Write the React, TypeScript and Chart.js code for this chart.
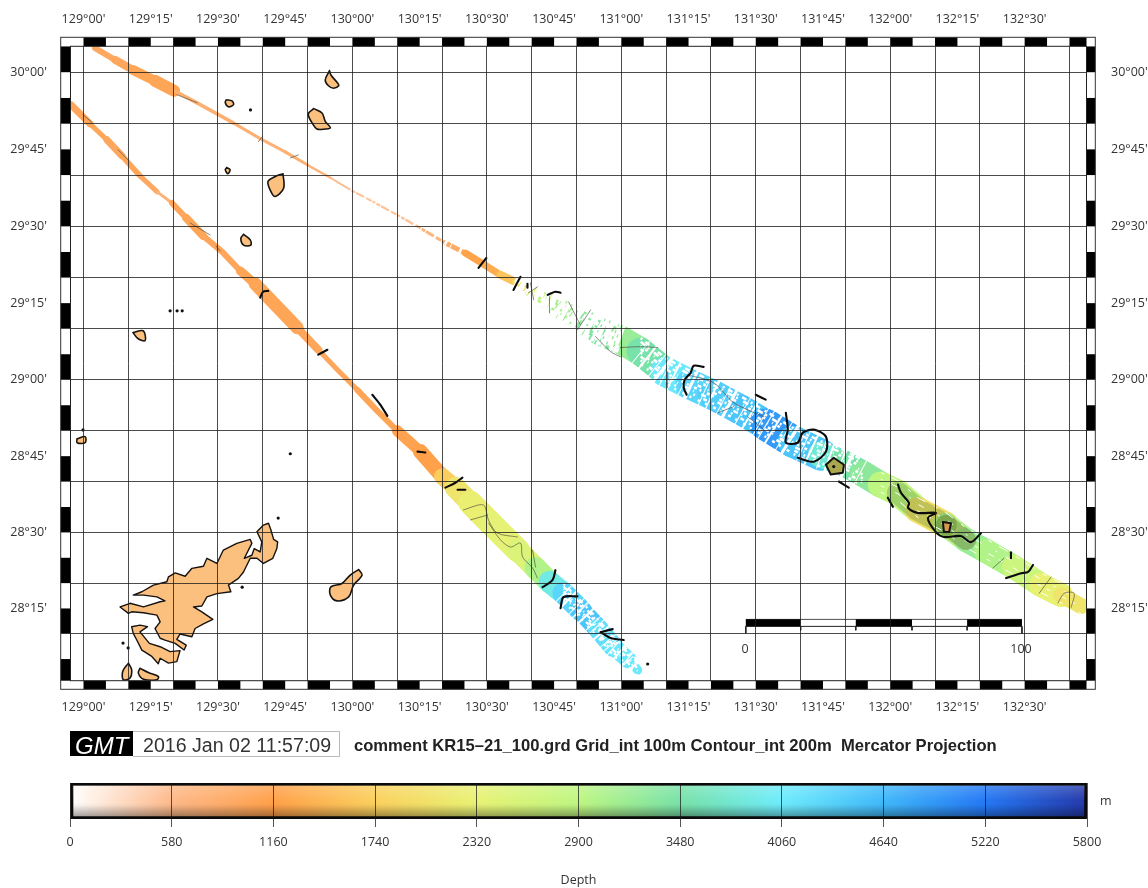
import React, { useEffect, useRef } from "react";
import { Chart, registerables } from "chart.js";
Chart.register(...registerables);

type P = [number, number];

// map extent (degrees)
const lonMin = 128.9516, lonMax = 132.7300, latMin = 28.012, latMax = 30.0838;

// swath centre lines
const lowerLon = [128.953,129.024,129.087,129.143,129.210,129.274,129.329,129.382,129.445,129.516,129.583,129.638,129.713,129.795,129.873,129.944,130.018,130.096,130.167,130.253,130.335,130.383,130.439,130.513,130.614,130.681,130.733,130.785,130.848,130.912,130.971,131.027,131.061];
const lowerLat = [29.895,29.833,29.781,29.729,29.664,29.612,29.576,29.527,29.469,29.417,29.355,29.313,29.245,29.170,29.098,29.033,28.967,28.895,28.833,28.765,28.683,28.647,28.597,28.531,28.442,28.383,28.337,28.300,28.245,28.185,28.123,28.080,28.047];
const lowerDepth = [1000,1000,1020,1000,1050,950,750,1000,1050,1000,1000,1050,1050,1050,1000,1000,1000,1050,1050,1100,1160,1700,2100,2250,2350,2500,3000,3900,4300,4500,4200,4100,4100];
const lowerSwath = [5,7,5,7,5.5,5,3,6,8,6,6,9,13,13,8,5,5,6,6,11,15,17,21,24,24,22,22,22,22,20,20,17,9];

const upperLon = [129.043,129.117,129.184,129.266,129.337,129.352,129.434,129.557,129.657,129.750,129.832,129.918,129.992,130.085,130.167,130.253,130.346,130.420,130.491,130.551,130.606,130.662,130.718,130.767,130.860,130.923,130.997,131.072,131.165,131.258,131.340,131.444,131.537,131.641,131.742,131.816,131.898,131.965,132.029,132.103,132.207,132.282,132.356,132.460,132.561,132.635,132.710];
const upperLat = [30.078,30.040,30.007,29.972,29.940,29.933,29.895,29.836,29.785,29.742,29.700,29.658,29.619,29.576,29.537,29.494,29.446,29.413,29.375,29.342,29.319,29.287,29.261,29.235,29.189,29.157,29.131,29.092,29.026,28.984,28.951,28.902,28.853,28.797,28.755,28.732,28.693,28.657,28.630,28.574,28.525,28.475,28.439,28.386,28.327,28.294,28.258];
const upperDepth = [900,950,1000,1050,1050,850,800,800,800,750,800,700,600,500,500,500,700,900,1200,1300,1600,2000,2400,2900,3100,3300,3400,3200,3500,4100,4300,4400,4500,4900,4500,3800,3500,3300,2900,2800,2000,3000,3200,3000,2700,2300,2100];
const upperSwath = [3.5,6,8,10,12,3.5,3.5,3.5,3,3,3,2.5,2,2,2.5,2.5,3,5,7,7,8,6,12,18,22,25,28,28,28,30,30,30,30,32,32,26,26,26,26,26,26,24,24,24,24,24,16];

// coastlines
const amamiMain: P[] = [[129.688,28.530],[129.697,28.508],[129.707,28.477],[129.722,28.469],[129.719,28.447],[129.704,28.415],[129.669,28.398],[129.645,28.415],[129.620,28.415],[129.595,28.370],[129.576,28.349],[129.539,28.327],[129.548,28.305],[129.496,28.299],[129.459,28.288],[129.440,28.258],[129.409,28.255],[129.440,28.239],[129.481,28.214],[129.446,28.199],[129.415,28.184],[129.403,28.157],[129.359,28.166],[129.347,28.148],[129.382,28.129],[129.374,28.113],[129.341,28.135],[129.303,28.146],[129.285,28.152],[129.266,28.184],[129.285,28.206],[129.273,28.228],[129.223,28.236],[129.179,28.239],[129.167,28.234],[129.136,28.255],[129.173,28.267],[129.223,28.255],[129.285,28.272],[129.303,28.275],[129.273,28.288],[129.223,28.294],[129.185,28.294],[129.217,28.305],[129.260,28.327],[129.310,28.338],[129.316,28.354],[129.341,28.367],[129.378,28.356],[129.403,28.382],[129.446,28.389],[129.459,28.415],[129.496,28.398],[129.520,28.442],[129.570,28.464],[129.620,28.477],[129.626,28.464],[129.598,28.415],[129.626,28.425],[129.635,28.447],[129.657,28.436],[129.663,28.469],[129.645,28.502],[129.669,28.524]];
const kakeroma: P[] = [[129.179,28.190],[129.210,28.195],[129.238,28.190],[129.210,28.173],[129.245,28.135],[129.285,28.124],[129.322,28.108],[129.359,28.111],[129.347,28.075],[129.316,28.070],[129.285,28.086],[129.278,28.068],[129.254,28.092],[129.217,28.113],[129.198,28.146],[129.185,28.168]];
const ukeShima: P[] = [[129.167,28.070],[129.179,28.048],[129.173,28.021],[129.148,28.015],[129.146,28.043]];
const yoroShima: P[] = [[129.210,28.053],[129.241,28.039],[129.278,28.026],[129.273,28.015],[129.223,28.017],[129.204,28.037]];
const kikai: P[] = [[130.023,28.378],[130.036,28.360],[130.004,28.326],[129.986,28.288],[129.943,28.275],[129.918,28.294],[129.920,28.321],[129.961,28.332],[129.992,28.360]];
const islandA: P[] = [[129.915,30.005],[129.920,29.991],[129.945,29.965],[129.949,29.956],[129.930,29.948],[129.911,29.956],[129.899,29.975]];
const islandB: P[] = [[129.856,29.882],[129.887,29.868],[129.899,29.841],[129.918,29.820],[129.899,29.816],[129.868,29.816],[129.850,29.836],[129.837,29.857],[129.837,29.868]];
const islandC: P[] = [[129.531,29.911],[129.552,29.907],[129.558,29.895],[129.539,29.888],[129.527,29.902]];
const islandE: P[] = [[129.533,29.691],[129.545,29.684],[129.537,29.671],[129.527,29.684]];
const islandF: P[] = [[129.742,29.671],[129.744,29.624],[129.713,29.597],[129.697,29.613],[129.686,29.646],[129.713,29.662]];
const islandG: P[] = [[129.595,29.474],[129.620,29.456],[129.622,29.439],[129.595,29.439],[129.585,29.461]];
const islandH: P[] = [[129.184,29.154],[129.222,29.160],[129.229,29.128],[129.203,29.134]];
const islandI: P[] = [[128.976,28.807],[129.006,28.814],[129.006,28.794],[128.976,28.794]];
const jaggedIslands = [amamiMain, kakeroma];
const smoothIslands = [ukeShima, yoroShima, kikai, islandA, islandB, islandC, islandE, islandF, islandG, islandH, islandI];
const islets: P[] = [[129.621,29.878],[128.998,28.836],[129.769,28.758],[129.724,28.547],[129.590,28.320],[129.147,28.136],[129.166,28.120],[129.322,29.225],[129.348,29.225],[129.367,29.225],[131.098,28.067],[131.790,28.716]];

// contours, heavy
const heavyContours: P[][] = [
  [[130.469,29.365],[130.498,29.397]],
  [[130.599,29.293],[130.625,29.336]],
  [[130.651,29.300],[130.651,29.313]],
  [[130.726,29.277],[130.755,29.287],[130.774,29.284]],
  [[131.306,29.042],[131.269,29.046],[131.258,29.023],[131.236,29.000],[131.232,28.974],[131.243,28.951]],
  [[131.500,28.951],[131.537,28.935]],
  [[131.612,28.892],[131.619,28.837],[131.612,28.794],[131.656,28.794],[131.675,28.827],[131.716,28.837],[131.761,28.814],[131.761,28.765],[131.716,28.732],[131.656,28.745]],
  [[131.809,28.667],[131.846,28.647]],
  [[132.029,28.657],[132.040,28.630],[132.070,28.597],[132.066,28.581],[132.103,28.564],[132.170,28.564],[132.140,28.547],[132.170,28.501],[132.200,28.485],[132.263,28.488],[132.300,28.468],[132.338,28.498]],
  [[131.991,28.614],[132.010,28.584]],
  [[132.431,28.350],[132.487,28.366],[132.513,28.370],[132.531,28.393]],
  [[132.449,28.435],[132.449,28.415]],
  [[130.346,28.647],[130.383,28.663],[130.409,28.680]],
  [[130.391,28.640],[130.420,28.640]],
  [[130.707,28.320],[130.744,28.343],[130.755,28.376]],
  [[130.774,28.251],[130.785,28.287],[130.837,28.290]],
  [[130.923,28.172],[130.960,28.153],[131.009,28.146]],
  [[130.923,28.172],[130.968,28.182]],
  [[130.242,28.765],[130.271,28.762]],
  [[129.687,29.290],[129.668,29.287],[129.657,29.268]],
  [[129.873,29.082],[129.907,29.098]],
  [[130.074,28.951],[130.104,28.918],[130.130,28.882]],
];
// closed seamount contours
const seamountA: P[] = [[131.761,28.722],[131.790,28.745],[131.828,28.722],[131.824,28.696],[131.779,28.690]];
const seamountB: P[] = [[132.196,28.534],[132.226,28.530],[132.219,28.501],[132.200,28.501]];
const seamountFills = ["#aaa84c", "#d89a50"];

// contours, thin
const thinContours: P[][] = [
  [[130.413,28.574],[130.487,28.590],[130.506,28.541],[130.539,28.498],[130.614,28.485]],
  [[130.439,28.541],[130.502,28.557]],
  [[130.506,28.531],[130.551,28.475],[130.588,28.452],[130.625,28.465],[130.633,28.419],[130.670,28.383],[130.688,28.350]],
  [[130.670,28.442],[130.681,28.386]],
  [[130.904,29.141],[130.960,29.092],[130.997,29.075]],
  [[130.997,29.105],[131.072,29.108],[131.135,29.105]],
  [[131.172,29.026],[131.172,28.974]],
  [[131.247,29.016],[131.344,28.990],[131.418,28.925],[131.530,28.879]],
  [[131.359,28.892],[131.418,28.912]],
  [[131.470,28.879],[131.530,28.837]],
  [[130.655,29.284],[130.688,29.303]],
  [[130.662,29.316],[130.674,29.261]],
  [[130.733,29.271],[130.733,29.219]],
  [[130.804,29.254],[130.848,29.179]],
  [[130.886,29.228],[130.837,29.163]],
  [[132.624,28.268],[132.647,28.300],[132.684,28.300],[132.673,28.254]],
  [[132.554,28.300],[132.598,28.353]],
  [[132.382,28.383],[132.423,28.415]],
  [[128.998,29.862],[129.032,29.837]],
  [[129.128,29.749],[129.166,29.716]],
  [[129.397,29.511],[129.471,29.472]],
  [[129.493,29.436],[129.508,29.420]],
  [[129.348,29.927],[129.423,29.901]],
  [[129.650,29.775],[129.665,29.791]],
  [[129.769,29.722],[129.799,29.732]],
];

// scale bar
const scaleBarLon = [131.463,131.667,131.872,132.081,132.286,132.490];
const scaleBarLat = 28.203, scaleBarTopLat = 28.214, scaleBarBaseLat = 28.191, scaleBarTickLat = 28.168, scaleBarMidTickLat = 28.178;

// colour palette
const cptDepths = [0,580,1160,1740,2320,2900,3480,4060,4640,5220,5800];
const cptColors: [number,number,number][] = [[255,255,255],[253,185,138],[255,160,74],[251,208,94],[232,242,116],[190,246,130],[120,226,168],[110,236,252],[64,184,250],[36,120,244],[36,56,170]];

const merc = (lat: number) => Math.log(Math.tan(Math.PI / 4 + (lat * Math.PI) / 360));
const invMerc = (v: number) => ((2 * Math.atan(Math.exp(v)) - Math.PI / 2) * 180) / Math.PI;
const colorAt = (d: number) => {
  let i = 0;
  while (i < cptDepths.length - 2 && d > cptDepths[i + 1]) i++;
  const t = (d - cptDepths[i]) / (cptDepths[i + 1] - cptDepths[i]);
  const c = cptColors[i].map((v, k) => Math.round(v + (cptColors[i + 1][k] - v) * t));
  return `rgb(${c[0]},${c[1]},${c[2]})`;
};
const pts = (a: P[]) => a.map(([lon, lat]) => ({ x: lon, y: merc(lat) }));
const closed = (a: P[]) => pts([...a, a[0]]);
const zip = (lon: number[], lat: number[]) => lon.map((x, i) => [x, lat[i]] as P);
const lonTicks: number[] = [];
for (let m = 0; m <= 48 * 5; m += 5) { const v = 129 + m / 60; if (v <= lonMax) lonTicks.push(v); }
const latTicks: number[] = [];
for (let m = 0; m <= 24 * 5; m += 5) { const v = 30 - m / 60; if (v >= latMin) latTicks.push(v); }
const lbl = (deg: number) => {
  const total = Math.round(deg * 60);
  const d = Math.floor(total / 60), m = total - d * 60;
  return m % 15 === 0 ? `${d}°${String(m).padStart(2, "0")}'` : "";
};
const gridOn = (deg: number) => Math.round(deg * 60) % 10 === 0;

const TICK_FONT = { family: "'Open Sans'", size: 12.5 };
const TICK_COLOR = "#333";

function line(data: any[], color: string, width: number, extra: any = {}) {
  return { data, borderColor: color, borderWidth: width, pointRadius: 0, tension: 0, fill: false, borderCapStyle: "round", borderJoinStyle: "round", ...extra };
}
function swath(lon: number[], lat: number[], depth: number[], width: number[]) {
  return line(pts(zip(lon, lat)), colorAt(depth[0]), width[0], {
    segment: {
      borderColor: (c: any) => colorAt(depth[c.p0DataIndex + 1]),
      borderWidth: (c: any) => width[c.p0DataIndex + 1],
    },
  });
}
function gaps(lon: number[], lat: number[], from: number, to: number, offset: number, w: number, dash: number[]) {
  const l = zip(lon.slice(from, to), lat.slice(from, to).map((v) => v + offset));
  return line(pts(l), "#fff", w, { borderDash: dash, borderCapStyle: "butt" });
}
function crosscut(lon: number[], lat: number[], width: number[], from: number, to: number, dash: number[]) {
  const l = zip(lon.slice(from, to), lat.slice(from, to));
  return line(pts(l), "#fff", width[from] + 3, {
    borderDash: dash, borderCapStyle: "butt", borderJoinStyle: "miter",
    segment: { borderWidth: (c: any) => width[from + c.p0DataIndex + 1] + 3 },
  });
}

const framePlugin = {
  id: "frame",
  afterDraw(chart: any) {
    const { ctx, chartArea: a, scales } = chart;
    const L = 60.7, T = 37.3, R = 1095.3, B = 689.3;
    ctx.save();
    ctx.fillStyle = "#000";
    for (let m = 0; m <= 240; m += 10) {
      const v0 = 129 + m / 60, v1 = Math.min(v0 + 5 / 60, lonMax);
      if (v0 >= lonMax) break;
      const x0 = scales.x.getPixelForValue(v0), x1 = scales.x.getPixelForValue(v1);
      ctx.fillRect(x0, T, x1 - x0, a.top - T);
      ctx.fillRect(x0, a.bottom, x1 - x0, B - a.bottom);
    }
    for (let m = -10; m <= 130; m += 10) {
      const v1 = Math.min(30 - m / 60 + 5 / 60, latMax), v0 = Math.max(30 - m / 60, latMin);
      if (v1 <= latMin || v0 >= latMax) continue;
      const y0 = scales.y.getPixelForValue(merc(v1)), y1 = scales.y.getPixelForValue(merc(v0));
      ctx.fillRect(L, y0, a.left - L, y1 - y0);
      ctx.fillRect(a.right, y0, R - a.right, y1 - y0);
    }
    ctx.strokeStyle = "#333";
    ctx.lineWidth = 1;
    ctx.strokeRect(L, T, R - L, B - T);
    ctx.strokeStyle = "#222";
    ctx.strokeRect(a.left, a.top, a.right - a.left, a.bottom - a.top);
    ctx.restore();
  },
};

const datasetsMain = () => {
  const list: any[] = [];
  list.push(swath(lowerLon, lowerLat, lowerDepth, lowerSwath));
  list.push(swath(upperLon, upperLat, upperDepth, upperSwath));
  // shaded ridge tones along the eastern swath
  list.push(line(pts(zip(upperLon.slice(38, 41), upperLat.slice(38, 41))), "rgba(20,90,20,0.22)", 22));
  list.push(line(pts(zip(upperLon.slice(40, 42), upperLat.slice(40, 42))), "rgba(90,70,0,0.3)", 20));
  // broken sounding coverage
  const offs = [-0.040, -0.028, -0.016, -0.004, 0.008, 0.020, 0.032, 0.044];
  const dashes = [[3, 5, 2, 7], [2, 9, 4, 6], [5, 4, 1, 8], [2, 6, 3, 3], [4, 7, 1, 5], [1, 5, 3, 8], [6, 3, 2, 6], [2, 4, 5, 5]];
  list.push(crosscut(upperLon, upperLat, upperSwath, 12, 18, [1.5, 4, 1, 9, 2.5, 6, 1, 3]));
  list.push(crosscut(upperLon, upperLat, upperSwath, 20, 27, [2.5, 3, 4, 5, 2, 2, 5, 4]));
  list.push(crosscut(upperLon, upperLat, upperSwath, 27, 37, [1, 7, 2, 11, 1, 5, 3, 13]));
  list.push(crosscut(lowerLon, lowerLat, lowerSwath, 27, 33, [1, 6, 2, 9, 1, 4]));
  offs.forEach((o, i) => {
    list.push(gaps(upperLon, upperLat, 20, 27, o, 4, dashes[i].map((d, k) => (k % 2 ? d * 0.5 : d * 1.5))));
    list.push(gaps(upperLon, upperLat, 27, 37, o, 2.5, dashes[i]));
    list.push(gaps(lowerLon, lowerLat, 27, 33, o * 0.7, 2.2, dashes[i]));
    if (i % 2) list.push(gaps(upperLon, upperLat, 37, 47, o * 0.9, 1, dashes[i].map((d) => d * 2)));
  });
  thinContours.forEach((c) => list.push(line(pts(c), "rgba(70,70,60,0.7)", 0.9, { tension: 0.3 })));
  [seamountA, seamountB].forEach((s, i) => list.push(line(closed(s), "#111", 2, { fill: "shape", backgroundColor: seamountFills[i] })));
  heavyContours.forEach((c) => list.push(line(pts(c), "#0b0b0b", 2.1, { tension: 0.3 })));
  jaggedIslands.forEach((s) => list.push(line(closed(s), "#161310", 1.4, { fill: "shape", backgroundColor: "#fbbf7e" })));
  smoothIslands.forEach((s) => list.push(line(closed(s), "#161310", 1.6, { fill: "shape", backgroundColor: "#fbbf7e", tension: 0.35 })));
  list.push(line(pts(islets), "rgba(0,0,0,0)", 0, { showLine: false, pointRadius: 1.6, pointBackgroundColor: "#111", pointBorderWidth: 0 }));
  // scale bar
  const sb = (a: number, b: number, c: string, w: number, la = scaleBarLat) => list.push(line(pts([[a, la], [b, la]]), c, w, { borderCapStyle: "butt" }));
  sb(scaleBarLon[0], scaleBarLon[5], "#fff", 6.5);
  sb(scaleBarLon[0], scaleBarLon[5], "#222", 0.8, scaleBarTopLat);
  sb(scaleBarLon[0], scaleBarLon[5], "#222", 1, scaleBarBaseLat);
  [0, 2, 4].forEach((i) => sb(scaleBarLon[i], scaleBarLon[i + 1], "#000", 7));
  scaleBarLon.forEach((v, i) => list.push(line(pts([[v, scaleBarBaseLat], [v, i === 0 || i === 5 ? scaleBarTickLat : scaleBarMidTickLat]]), "#222", 1, { borderCapStyle: "butt" })));
  const n = list.length;
  list.forEach((d, i) => (d.order = n - i));
  return list;
};

const lonAxis = (position: string, height: number, padding: number) => ({
  type: "linear", position, min: lonMin, max: lonMax,
  afterBuildTicks: (s: any) => { s.ticks = lonTicks.map((value) => ({ value })); },
  afterFit: (s: any) => { s.height = height; },
  ticks: { autoSkip: false, maxRotation: 0, padding, color: TICK_COLOR, font: TICK_FONT, callback: (v: any) => lbl(v) },
  border: { display: false },
});
const latAxis = (position: string, width: number, padding: number) => ({
  type: "linear", position, min: merc(latMin), max: merc(latMax),
  afterBuildTicks: (s: any) => { s.ticks = latTicks.map((v) => ({ value: merc(v) })); },
  afterFit: (s: any) => { s.width = width; },
  ticks: { autoSkip: false, padding, color: TICK_COLOR, font: TICK_FONT, callback: (v: any) => lbl(invMerc(v)) },
  border: { display: false },
});

const GRID = "rgba(30,30,30,0.8)";

export default function App() {
  const mapRef = useRef<HTMLCanvasElement>(null);
  const barRef = useRef<HTMLCanvasElement>(null);
  useEffect(() => {
    document.body.style.margin = "0";
    const noGrid = { display: false, drawTicks: false };
    const map = new Chart(mapRef.current as any, {
      type: "line",
      data: { datasets: datasetsMain() },
      options: {
        animation: false, responsive: false, events: [],
        layout: { padding: 0 },
        plugins: { legend: { display: false }, tooltip: { enabled: false } },
        scales: {
          x: { ...lonAxis("bottom", 49.3, 19), grid: { z: 1, drawTicks: false, lineWidth: 1, color: (c: any) => (c.tick && gridOn(c.tick.value) ? GRID : "rgba(0,0,0,0)") } },
          xTop: { ...lonAxis("top", 46.3, 19), grid: noGrid },
          y: { ...latAxis("left", 70.5, 23.5), grid: { z: 1, drawTicks: false, lineWidth: 1, color: (c: any) => (c.tick && gridOn(invMerc(c.tick.value)) ? GRID : "rgba(0,0,0,0)") } },
          yRight: { ...latAxis("right", 61.5, 24.5), grid: noGrid },
        },
      } as any,
      plugins: [framePlugin],
    } as any);

    const hGrad = (c: any) => {
      const { chart } = c;
      if (!chart.chartArea) return "#fff";
      const x = chart.scales.x;
      const g = chart.ctx.createLinearGradient(x.getPixelForValue(0), 0, x.getPixelForValue(5800), 0);
      cptDepths.forEach((d, i) => g.addColorStop(d / 5800, `rgb(${cptColors[i].join(",")})`));
      return g;
    };
    const vGrad = (c: any) => {
      const { chart } = c;
      if (!chart.chartArea) return "rgba(0,0,0,0)";
      const a = chart.chartArea;
      const g = chart.ctx.createLinearGradient(0, a.top, 0, a.bottom);
      g.addColorStop(0, "rgba(255,255,255,0.22)");
      g.addColorStop(0.5, "rgba(255,255,255,0)");
      g.addColorStop(0.62, "rgba(0,0,0,0.03)");
      g.addColorStop(1, "rgba(0,0,0,0.42)");
      return g;
    };
    const bar = new Chart(barRef.current as any, {
      type: "bar",
      data: {
        labels: ["Depth"],
        datasets: [
          { data: [[0, 5800]], backgroundColor: vGrad, borderColor: "#0a0a0a", borderWidth: 2.5, borderSkipped: false, order: 1, grouped: false, barPercentage: 1, categoryPercentage: 1 },
          { data: [[0, 5800]], backgroundColor: hGrad, borderWidth: 0, order: 2, grouped: false, barPercentage: 1, categoryPercentage: 1 },
        ],
      },
      options: {
        indexAxis: "y", animation: false, responsive: false, events: [],
        layout: { padding: { left: 70, right: 61, top: 13, bottom: 0 } },
        plugins: { legend: { display: false }, tooltip: { enabled: false } },
        scales: {
          y: { display: false },
          x: {
            type: "linear", min: 0, max: 5800,
            afterBuildTicks: (s: any) => { s.ticks = cptDepths.map((value) => ({ value })); },
            afterFit: (s: any) => { s.height = 118 - 49; },
            grid: { z: 1, color: "rgba(20,20,20,0.7)", tickColor: "#555", tickLength: 8, lineWidth: 1, drawTicks: true },
            border: { display: false },
            ticks: { autoSkip: false, maxRotation: 0, padding: 8, color: TICK_COLOR, font: TICK_FONT, callback: (v: any) => String(v) },
            title: { display: true, text: "Depth", color: TICK_COLOR, font: TICK_FONT, padding: { top: 20, bottom: 0 } },
          },
        },
      } as any,
    } as any);
    return () => { map.destroy(); bar.destroy(); };
  }, []);

  const abs = (s: any): React.CSSProperties => ({ position: "absolute", whiteSpace: "pre", lineHeight: 1, ...s });
  const soft = "blur(0.4px)";
  return (
    <div>
      <canvas ref={mapRef} width={1148} height={730} style={{ position: "absolute", left: 0, top: 0, filter: soft }} />
      <canvas ref={barRef} width={1148} height={118} style={{ position: "absolute", left: 0, top: 770, filter: soft }} />
      <div style={abs({ left: 745, top: 640, transform: "translateX(-50%)", font: "12.5px 'Open Sans'", color: "#333" })}>0</div>
      <div style={abs({ left: 1021, top: 640, transform: "translateX(-50%)", font: "12.5px 'Open Sans'", color: "#333" })}>100</div>
      <div style={abs({ left: 70, top: 731, width: 63, height: 25, background: "#000" })} />
      <div style={abs({ left: 75, top: 732, font: "italic 24px 'Liberation Sans'", color: "#fff" })}>GMT</div>
      <div style={abs({ left: 133, top: 731, width: 206, height: 24, border: "1px solid #bbb", borderLeft: "none" })} />
      <div style={abs({ left: 143, top: 734, font: "19.6px 'Liberation Sans'", color: "#333" })}>2016 Jan 02 11:57:09</div>
      <div style={abs({ left: 354, top: 736, font: "bold 16.6px 'Liberation Sans'", color: "#222" })}>{"comment KR15–21_100.grd Grid_int 100m Contour_int 200m  Mercator Projection"}</div>
      <div style={abs({ left: 1100, top: 792, font: "12.5px 'Open Sans'", color: "#333" })}>m</div>
    </div>
  );
}
